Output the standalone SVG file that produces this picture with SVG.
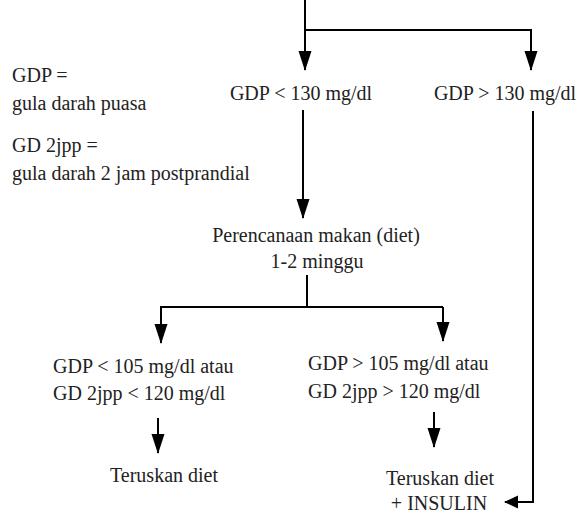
<svg xmlns="http://www.w3.org/2000/svg" width="580" height="515" viewBox="0 0 580 515">
<style>
text{font-family:"Liberation Serif","Times New Roman",serif;font-size:20px;fill:#222}
.c{text-anchor:middle}
.ln{fill:none;stroke:#000;stroke-width:2}
</style>
<defs>
<marker id="ah" markerUnits="userSpaceOnUse" markerWidth="20" markerHeight="14" refX="19" refY="6.5" orient="auto" viewBox="0 0 20 13">
<path d="M0,0 L20,6.5 L0,13 z" fill="#000"/>
</marker>
<marker id="ahs" markerUnits="userSpaceOnUse" markerWidth="14" markerHeight="14" refX="13" refY="6.5" orient="auto" viewBox="0 0 14 13">
<path d="M0,0 L14,6.5 L0,13 z" fill="#000"/>
</marker>
</defs>
<rect width="580" height="515" fill="#fff"/>
<g id="connectors">
<path class="ln" d="M305,0 V70" marker-end="url(#ah)"/>
<path class="ln" d="M305,30 H531 V70" marker-end="url(#ah)"/>
<path class="ln" d="M303,110 V218" marker-end="url(#ah)"/>
<path class="ln" d="M307,275 V307" stroke-width="3"/>
<path class="ln" d="M443,307 H161 V343" marker-end="url(#ah)"/>
<path class="ln" d="M443,307 V341" marker-end="url(#ah)"/>
<path class="ln" d="M158,418 V453" marker-end="url(#ah)"/>
<path class="ln" d="M434,412 V447" marker-end="url(#ah)"/>
<path class="ln" d="M533,111 V502 H505" stroke-width="2.5" marker-end="url(#ahs)"/>
</g>
<g id="legend">
<text x="12" y="82">GDP =</text>
<text x="12" y="110">gula darah puasa</text>
<text x="12" y="152">GD 2jpp =</text>
<text x="12" y="180">gula darah 2 jam postprandial</text>
</g>
<g id="node-gdp-low"><text class="c" x="301" y="100">GDP &lt; 130 mg/dl</text></g>
<g id="node-gdp-high"><text class="c" x="505" y="100">GDP &gt; 130 mg/dl</text></g>
<g id="node-diet">
<text class="c" x="316" y="242">Perencanaan makan (diet)</text>
<text class="c" x="317" y="268">1-2 minggu</text>
</g>
<g id="node-left-cond">
<text x="53" y="373">GDP &lt; 105 mg/dl atau</text>
<text x="53" y="400">GD 2jpp &lt; 120 mg/dl</text>
</g>
<g id="node-right-cond">
<text x="308" y="370">GDP &gt; 105 mg/dl atau</text>
<text x="308" y="398">GD 2jpp &gt; 120 mg/dl</text>
</g>
<g id="node-teruskan"><text class="c" x="164" y="482">Teruskan diet</text></g>
<g id="node-insulin">
<text class="c" x="440" y="485">Teruskan diet</text>
<text class="c" x="439" y="510">+ INSULIN</text>
</g>
</svg>
